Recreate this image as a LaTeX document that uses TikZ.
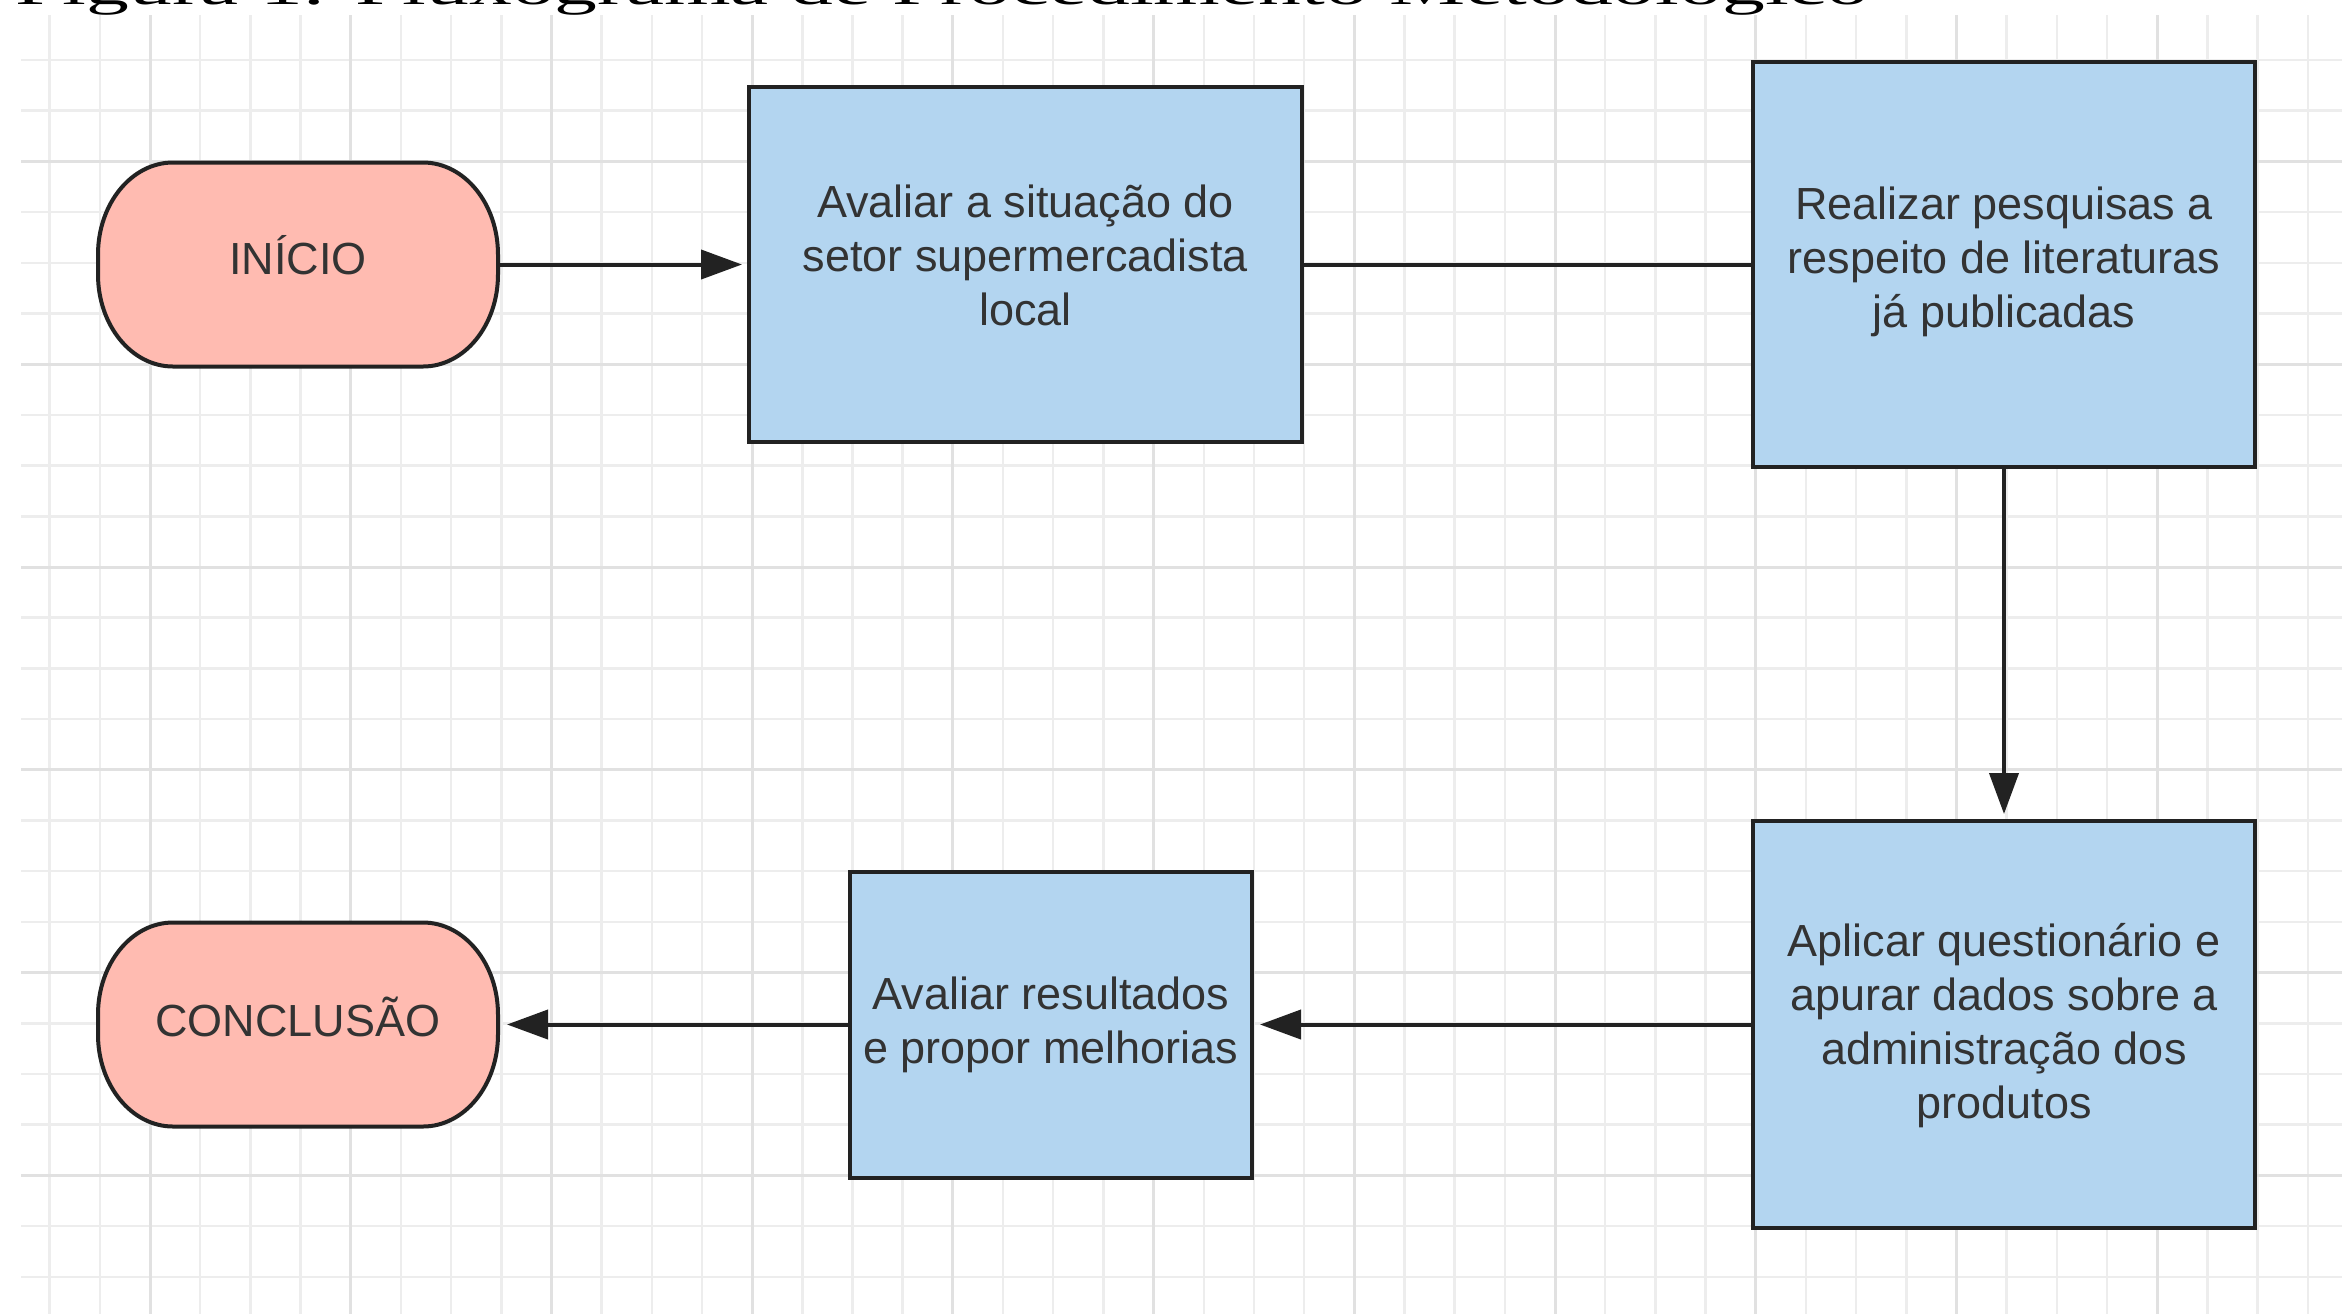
\documentclass[tikz,border=0pt]{standalone}
\usepackage{fontspec}
\usepackage{graphicx}
\usetikzlibrary{arrows.meta,calc,backgrounds}
\newfontfamily\boxfont{Liberation Sans}
\newfontfamily\capfont{Liberation Serif}
\definecolor{boxblue}{HTML}{B3D5F0}
\definecolor{termred}{HTML}{FFBBB1}
\definecolor{edgecol}{HTML}{222222}
\definecolor{txtcol}{HTML}{333333}
\definecolor{gridminor}{HTML}{EDEDED}
\definecolor{gridmajor}{HTML}{E1E1E1}
\newcommand\mlines[1]{\vbox{\baselineskip=27pt\lineskiplimit=-100pt\lineskip=0pt\halign{\hfil##\hfil\cr#1\crcr}}}
\newcommand\termoutline[1]{%
  \draw[termline] ($(#1.center)+(-125,-102)$) -- ($(#1.center)+(125,-102)$)
    .. controls +(41.4,0) and +(0,-50.8) .. ($(#1.center)+(200,-10)$)
    -- ($(#1.center)+(200,10)$)
    .. controls +(0,50.8) and +(41.4,0) .. ($(#1.center)+(125,102)$)
    -- ($(#1.center)+(-125,102)$)
    .. controls +(-41.4,0) and +(0,50.8) .. ($(#1.center)+(-200,10)$)
    -- ($(#1.center)+(-200,-10)$)
    .. controls +(0,-50.8) and +(-41.4,0) .. ($(#1.center)+(-125,-102)$) -- cycle;}
\tikzset{
  boxnode/.style={draw=edgecol, line width=2pt, fill=boxblue, rectangle, outer sep=0pt, inner sep=0pt, text=txtcol, font=\boxfont\fontsize{22.5pt}{27pt}\selectfont},
  termnode/.style={rectangle, outer sep=0pt, inner sep=0pt, minimum width=200pt, minimum height=102pt, text=txtcol, font=\boxfont\fontsize{22.5pt}{27pt}\selectfont, text height=16pt},
  termline/.style={draw=edgecol, line width=2pt, fill=termred},
  conn/.style={draw=edgecol, line width=2pt},
  arrowconn/.style={conn, -{Triangle[length=20.5pt,width=14.5pt]}},
  gridthin/.style={draw=gridminor, line width=1.25pt},
  gridthick/.style={draw=gridmajor, line width=1.5pt},
}
\begin{document}
\begin{tikzpicture}[x=0.5pt,y=-0.5pt]
\useasboundingbox (0,0) rectangle (2342,1314);
\begin{pgfonlayer}{background}
  \fill[white] (0,0) rectangle (2342,1314);
  \foreach \k in {-2,...,43}{\pgfmathsetmacro\gx{150+50.18*\k}\draw[gridthin] (\gx,15) -- (\gx,1314);}
  \foreach \k in {0,...,24}{\pgfmathsetmacro\gy{60+50.7*\k}\draw[gridthin] (21,\gy) -- (2342,\gy);}
  \foreach \k in {0,4,...,40}{\pgfmathsetmacro\gx{150+50.18*\k}\draw[gridthick] (\gx,15) -- (\gx,1314);}
  \foreach \k in {2,6,...,22}{\pgfmathsetmacro\gy{60+50.7*\k}\draw[gridthick] (21,\gy) -- (2342,\gy);}
\end{pgfonlayer}

\node[anchor=base west, inner sep=0pt, font=\capfont\fontsize{25pt}{30pt}\selectfont, text=black] (cap) at (14.7,4) {\scalebox{1.712}[1]{Figura 1: Fluxograma de Procedimento Metodológico}};

\node[termnode, text depth=6pt] (ini) at (298,264.5) {INÍCIO};
\node[boxnode, minimum width=276.5pt, minimum height=177.5pt, text height=70pt, text depth=9.5pt] (b1) at (1025.5,264.5) {\mlines{Avaliar a situação do\cr setor supermercadista\cr local}};
\node[boxnode, minimum width=251pt, minimum height=202.5pt, text height=70pt, text depth=7pt] (b2) at (2004,264.5) {\mlines{Realizar pesquisas a\cr respeito de literaturas\cr já publicadas}};
\node[boxnode, minimum width=251pt, minimum height=203.5pt, text height=97pt, text depth=2.7pt] (b3) at (2004,1024.5) {\mlines{Aplicar questionário e\cr apurar dados sobre a\cr administração dos\cr produtos}};
\node[boxnode, minimum width=201pt, minimum height=153pt, text height=43pt, text depth=4.5pt] (b4) at (1051,1024.5) {\mlines{Avaliar resultados\cr e propor melhorias}};
\node[termnode, text depth=4.5pt] (con) at (298,1024.5) {CONCLUSÃO};

\begin{pgfonlayer}{background}
  \termoutline{ini}
  \termoutline{con}
\end{pgfonlayer}

\draw[arrowconn, shorten >=3.5pt] (ini.east) -- (b1.west);
\draw[conn] (b1.east) -- (b2.west);
\draw[arrowconn, shorten >=3.5pt] (b2.south) -- (b3.north);
\draw[arrowconn, shorten >=4pt] (b3.west) -- (b4.east);
\draw[arrowconn, shorten >=4.5pt] (b4.west) -- (con.east);
\end{tikzpicture}
\end{document}
